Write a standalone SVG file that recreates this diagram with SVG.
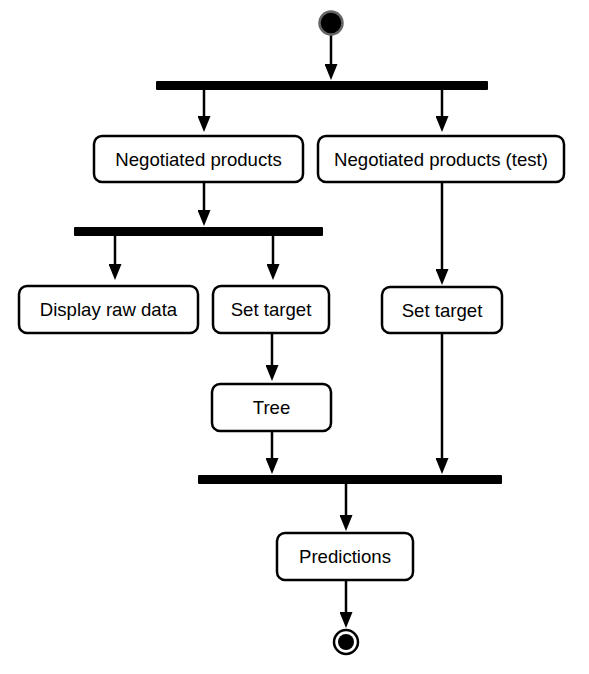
<svg xmlns="http://www.w3.org/2000/svg" width="589" height="674" viewBox="0 0 589 674">
<style>
.box{fill:#fff;stroke:#000;stroke-width:2.5}
.bar{fill:#000}
.lbl{font-family:"Liberation Sans",Arial,sans-serif;font-size:18.6px;fill:#000;text-anchor:middle}
.edge{stroke:#000;stroke-width:2.5;fill:none;marker-end:url(#arr)}
</style>
<defs>
<marker id="arr" viewBox="0 0 16 13" refX="8" refY="6.5" markerWidth="16" markerHeight="13" markerUnits="userSpaceOnUse" orient="auto">
<path d="M0,0 L16,6.5 L0,13 z" fill="#000"/>
</marker>
</defs>
<rect width="589" height="674" fill="#fff"/>
<g id="connectors">
<line class="edge" x1="331" y1="35" x2="331" y2="72"/>
<line class="edge" x1="204" y1="90" x2="204" y2="124"/>
<line class="edge" x1="442" y1="90" x2="442" y2="124"/>
<line class="edge" x1="204" y1="182" x2="204" y2="218"/>
<line class="edge" x1="115" y1="236" x2="115" y2="272"/>
<line class="edge" x1="273" y1="236" x2="273" y2="272"/>
<line class="edge" x1="442" y1="182" x2="442" y2="277"/>
<line class="edge" x1="272" y1="333" x2="272" y2="373"/>
<line class="edge" x1="272" y1="431" x2="272" y2="466"/>
<line class="edge" x1="442" y1="333" x2="442" y2="466"/>
<line class="edge" x1="346" y1="484" x2="346" y2="523"/>
<line class="edge" x1="346" y1="580" x2="346" y2="620"/>
</g>
<g id="start"><circle cx="331" cy="23" r="11.5" fill="#000" stroke="#666" stroke-width="2.5"/></g>
<g id="fork1"><rect class="bar" x="156" y="81" width="332" height="9" rx="1"/></g>
<g id="negotiated"><rect class="box" x="94" y="136" width="209" height="46" rx="8"/><text class="lbl" x="198.5" y="165.5">Negotiated products</text></g>
<g id="negotiated-test"><rect class="box" x="318" y="136" width="246" height="46" rx="8"/><text class="lbl" x="441" y="165.5">Negotiated products (test)</text></g>
<g id="fork2"><rect class="bar" x="74" y="227" width="249" height="9" rx="1"/></g>
<g id="display"><rect class="box" x="19" y="286" width="179" height="47" rx="8"/><text class="lbl" x="108.5" y="316">Display raw data</text></g>
<g id="settarget1"><rect class="box" x="213" y="286" width="116" height="47" rx="8"/><text class="lbl" x="271" y="316">Set target</text></g>
<g id="settarget2"><rect class="box" x="382" y="287" width="120" height="46" rx="8"/><text class="lbl" x="442" y="316.5">Set target</text></g>
<g id="tree"><rect class="box" x="212" y="384" width="119" height="47" rx="8"/><text class="lbl" x="271.5" y="414">Tree</text></g>
<g id="join"><rect class="bar" x="198" y="475" width="304" height="9" rx="1"/></g>
<g id="predictions"><rect class="box" x="277" y="533" width="136" height="47" rx="8"/><text class="lbl" x="345" y="563">Predictions</text></g>
<g id="end"><circle cx="346" cy="642" r="12" fill="#fff" stroke="#000" stroke-width="2.5"/><circle cx="346" cy="642" r="8" fill="#000"/></g>
</svg>
